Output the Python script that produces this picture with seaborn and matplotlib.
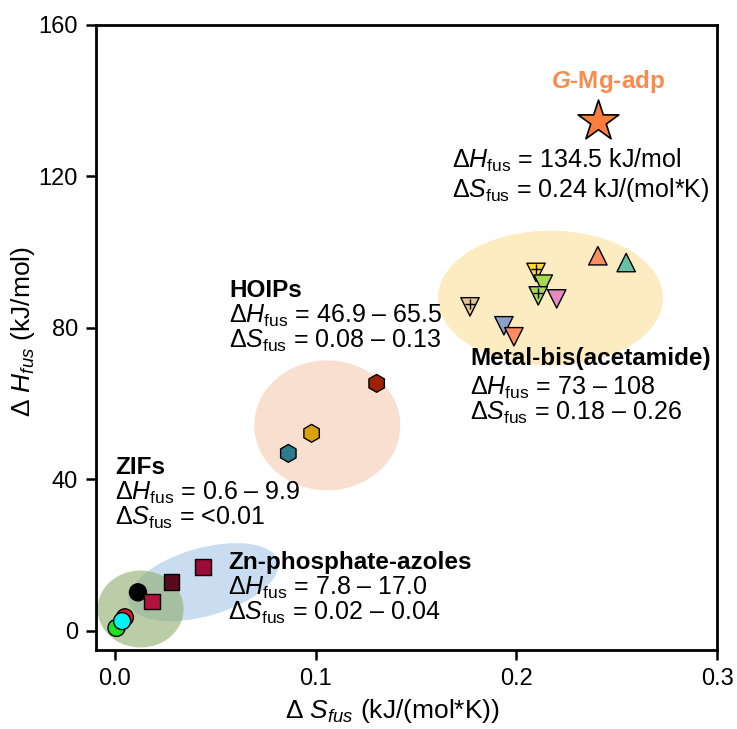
import numpy as np
import pandas as pd
import matplotlib
matplotlib.use("Agg")
import matplotlib.pyplot as plt
import seaborn as sns
from matplotlib.patches import Ellipse
from matplotlib.transforms import Affine2D

# ---- data ----
zif_S = [0.0115, 0.0050, 0.0008, 0.0036]
zif_H = [10.1, 3.5, 0.7, 2.5]
zif_colors = ["#000000", "#e8141c", "#22e022", "#00f2f2"]

zn_S = [0.0183, 0.0282, 0.0440]
zn_H = [7.7, 12.9, 16.9]
zn_colors = ["#b3123f", "#5a0a1f", "#9c0a36"]

hoip_S = [0.0864, 0.0980, 0.1304]
hoip_H = [46.8, 52.1, 65.3]
hoip_colors = ["#2c7a8d", "#d8a10f", "#9e2100"]

mb_up_S = [0.2406, 0.2547]
mb_up_H = [99.0, 97.2]
mb_up_colors = ["#fc8d62", "#66c2a5"]

mb_dn_S = [0.2098, 0.2134, 0.2109, 0.2201, 0.1769, 0.1938, 0.1988]
mb_dn_H = [94.6, 91.5, 88.4, 87.6, 85.5, 80.5, 77.6]
mb_dn_colors = ["#ffd92f", "#a6d854", "#a6d854", "#e78ac3", "#e5c494", "#8da0cb", "#fc8d62"]
mb_dn_plus = [True, False, True, False, True, False, False]

star_S = [0.2407]
star_H = [134.5]

xticks = [0.0, 0.1, 0.2, 0.3]
yticks = [0, 40, 80, 120, 160]

# ---- style ----
sns.set_theme(style="ticks")
plt.rcParams["font.family"] = ["Liberation Sans", "DejaVu Sans"]
plt.rcParams["text.color"] = "black"
plt.rcParams["axes.labelcolor"] = "black"
plt.rcParams["mathtext.fontset"] = "custom"
plt.rcParams["mathtext.rm"] = "Liberation Sans"
plt.rcParams["mathtext.it"] = "Liberation Sans:italic"
plt.rcParams["mathtext.bf"] = "Liberation Sans:bold"
plt.rcParams["mathtext.sf"] = "Liberation Sans:bold:italic"

fig = plt.figure(figsize=(7.37, 7.29), dpi=100)
ax = fig.add_axes([0.130, 0.108, 0.843, 0.858])

XPX, YPX = 2007.0, 3.7875  # approx pixels per data unit


def add_ell(cx, cy, wpx, hpx, ang, color, alpha):
    e = Ellipse((0, 0), wpx, hpx, angle=ang, facecolor=color, edgecolor="none",
                alpha=alpha, zorder=1)
    e.set_transform(Affine2D().scale(1 / XPX, 1 / YPX).translate(cx, cy) + ax.transData)
    ax.add_patch(e)


add_ell(0.2170, 87.8, 225, 135, 0, "#fde9b8", 0.85)
add_ell(0.1058, 54.2, 146, 130, 0, "#f8dccb", 0.9)
add_ell(0.0441, 12.8, 155, 68, 16, "#a8c7e6", 0.6)
add_ell(0.0128, 5.7, 86, 77, 0, "#8fac6c", 0.6)


def scat(S, H, colors, marker, s, z=3):
    df = pd.DataFrame({"S": S, "H": H, "id": [str(i) for i in range(len(S))]})
    sns.scatterplot(data=df, x="S", y="H", hue="id", palette=colors, marker=marker,
                    s=s, edgecolor="black", linewidth=1.0, legend=False, ax=ax, zorder=z)


scat(zif_S, zif_H, zif_colors, "o", 150)
scat(zn_S, zn_H, zn_colors, "s", 130)
scat(hoip_S, hoip_H, hoip_colors, "h", 165)
scat(mb_up_S, mb_up_H, mb_up_colors, "^", 175)
scat(mb_dn_S, mb_dn_H, mb_dn_colors, "v", 175)
pS = [s for s, p in zip(mb_dn_S, mb_dn_plus) if p]
pH = [h + 0.8 for h, p in zip(mb_dn_H, mb_dn_plus) if p]
sns.scatterplot(x=pS, y=pH, marker="+", s=50, color="black", linewidth=1.0, ax=ax, zorder=4, legend=False)
sns.scatterplot(x=star_S, y=star_H, marker="*", s=950, color="#fc7e3c", edgecolor="black",
                linewidth=1.2, ax=ax, zorder=5, legend=False)

# ---- annotations ----
fs = 18
fsb = 17.5
ax.text(0.2455, 145, r"$\mathsf{G}$-Mg-adp", color="#fc8a4c", fontsize=fsb,
        fontweight="bold", ha="center", va="center")
ax.text(0.168, 124.2, r"$\Delta\mathit{H}_{\rm fus}$ = 134.5 kJ/mol", fontsize=fs, va="center")
ax.text(0.168, 116.3, r"$\Delta\mathit{S}_{\rm fus}$ = 0.24 kJ/(mol*K)", fontsize=fs, va="center")

ax.text(0.057, 89.8, "HOIPs", fontsize=fsb, fontweight="bold", va="center")
ax.text(0.057, 83.0, r"$\Delta\mathit{H}_{\rm fus}$ = 46.9 – 65.5", fontsize=fs, va="center")
ax.text(0.057, 76.4, r"$\Delta\mathit{S}_{\rm fus}$ = 0.08 – 0.13", fontsize=fs, va="center")

ax.text(0.177, 71.8, "Metal-bis(acetamide)", fontsize=fsb, fontweight="bold", va="center")
ax.text(0.177, 64.0, r"$\Delta\mathit{H}_{\rm fus}$ = 73 – 108", fontsize=fs, va="center")
ax.text(0.177, 57.4, r"$\Delta\mathit{S}_{\rm fus}$ = 0.18 – 0.26", fontsize=fs, va="center")

ax.text(0.0, 43.0, "ZIFs", fontsize=fsb, fontweight="bold", va="center")
ax.text(0.0, 36.4, r"$\Delta\mathit{H}_{\rm fus}$ = 0.6 – 9.9", fontsize=fs, va="center")
ax.text(0.0, 29.8, r"$\Delta\mathit{S}_{\rm fus}$ = <0.01", fontsize=fs, va="center")

ax.text(0.0565, 18.0, "Zn-phosphate-azoles", fontsize=fsb, fontweight="bold", va="center")
ax.text(0.0565, 11.4, r"$\Delta\mathit{H}_{\rm fus}$ = 7.8 – 17.0", fontsize=fs, va="center")
ax.text(0.0565, 4.8, r"$\Delta\mathit{S}_{\rm fus}$ = 0.02 – 0.04", fontsize=fs, va="center")

# ---- axes ----
ax.set_xlim(-0.0095, 0.3)
ax.set_ylim(-5.2, 160)
ax.set_xticks(xticks)
ax.set_xticklabels([f"{t:.1f}" for t in xticks])
ax.set_yticks(yticks)
ax.set_yticklabels([str(t) for t in yticks])
ax.tick_params(axis="both", direction="out", length=7, width=1.8, labelsize=17, pad=6,
               color="black", labelcolor="black")
for sp in ax.spines.values():
    sp.set_visible(True)
    sp.set_linewidth(2.0)
    sp.set_color("black")
ax.set_xlabel(r"$\Delta\ \mathit{S}_{\mathit{fus}}$ (kJ/(mol*K))", fontsize=19, labelpad=6)
ax.set_ylabel(r"$\Delta\ \mathit{H}_{\mathit{fus}}$ (kJ/mol)", fontsize=19, labelpad=6)
ax.xaxis.set_label_coords(0.478, -0.075)
ax.yaxis.set_label_coords(-0.095, 0.51)
ax.set_facecolor("white")

fig.savefig("out.png", dpi=100, facecolor="white")
